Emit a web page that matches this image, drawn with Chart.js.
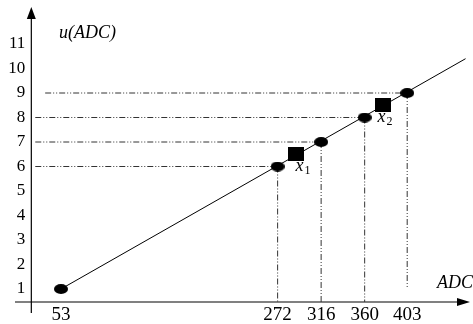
<!DOCTYPE html>
<html>
<head>
<meta charset="utf-8">
<script src="https://cdn.jsdelivr.net/npm/chart.js@4.4.1/dist/chart.umd.min.js"></script>
<style>
  html, body { margin: 0; padding: 0; background: #fff; }
  #wrap { width: 473px; height: 324px; }
</style>
</head>
<body>
<div id="wrap"><canvas id="chart" width="473" height="324"></canvas></div>
<script>
// calibration points on the line
const adcValues = [53, 272, 316, 360, 403];
const levels = [1, 6, 7, 8, 9];
// guide lines: where the horizontal one starts, where the vertical one stops
const guideStart = [null, 27, 27, 27, 37];
const guideStop = [null, 0.47, 0.47, 0.47, 1.04];
// the two measured samples
const sampleNames = ['1', '2'];
const sampleAdc = [291, 379];
const sampleLevel = [6.5, 8.5];
// far end of the fitted line
const lineEndAdc = 462;
const lineEndLevel = 10.4;
// tick labels
const yTicks = [1, 2, 3, 4, 5, 6, 7, 8, 9, 10, 11];
const xTicks = [53, 272, 316, 360, 403];

const X_MIN = 6.5, X_MAX = 466.5, Y_MIN = 0.47, Y_MAX = 12.51;
const Y_AXIS_AT = 23;
const SERIF = '"Liberation Serif", "DejaVu Serif", serif';

function makeMarker(w, h, shape) {
    const c = document.createElement('canvas');
    c.width = w; c.height = h;
    const ctx = c.getContext('2d');
    ctx.fillStyle = '#000';
    if (shape === 'ellipse') {
        ctx.beginPath();
        ctx.ellipse(w / 2, h / 2, w / 2, h / 2, 0, 0, Math.PI * 2);
        ctx.fill();
    } else {
        ctx.fillRect(0, 0, w, h);
    }
    return c;
}

const dotMarker = makeMarker(14, 10, 'ellipse');
const squareMarker = makeMarker(16, 14, 'rect');

const guideDash = [6, 2, 1, 2, 1, 2];
const guideSets = [];
for (let i = 1; i < adcValues.length; i++) {
    guideSets.push({
        data: [{ x: guideStart[i], y: levels[i] }, { x: adcValues[i], y: levels[i] }],
        showLine: true, borderColor: '#333', borderWidth: 1, borderDash: guideDash,
        pointRadius: 0, order: 5
    });
    guideSets.push({
        data: [{ x: adcValues[i], y: levels[i] }, { x: adcValues[i], y: guideStop[i] }],
        showLine: true, borderColor: '#333', borderWidth: 1, borderDash: guideDash,
        pointRadius: 0, order: 5
    });
}

const axesPlugin = {
    id: 'axes',
    beforeDatasetsDraw(chart) {
        const { ctx, chartArea, scales } = chart;
        const ax = scales.x.getPixelForValue(Y_AXIS_AT);
        const ay = scales.y.getPixelForValue(Y_MIN);
        ctx.save();
        // x axis
        ctx.strokeStyle = '#808080';
        ctx.lineWidth = 2;
        ctx.beginPath();
        ctx.moveTo(chartArea.left, ay);
        ctx.lineTo(chartArea.right - 10, ay);
        ctx.stroke();
        ctx.fillStyle = '#000';
        ctx.beginPath();
        ctx.moveTo(chartArea.right, ay);
        ctx.lineTo(chartArea.right - 13, ay - 4);
        ctx.lineTo(chartArea.right - 13, ay + 4);
        ctx.closePath();
        ctx.fill();
        // y axis
        ctx.strokeStyle = '#000';
        ctx.lineWidth = 1.2;
        ctx.beginPath();
        ctx.moveTo(ax, chartArea.bottom + 11);
        ctx.lineTo(ax, chartArea.top + 8);
        ctx.stroke();
        ctx.beginPath();
        ctx.moveTo(ax, chartArea.top);
        ctx.lineTo(ax - 4.5, chartArea.top + 12);
        ctx.lineTo(ax + 4.5, chartArea.top + 12);
        ctx.closePath();
        ctx.fill();
        ctx.restore();
    },
    afterDatasetsDraw(chart) {
        const { ctx, scales } = chart;
        const ax = scales.x.getPixelForValue(Y_AXIS_AT);
        const ay = scales.y.getPixelForValue(Y_MIN);
        ctx.save();
        ctx.fillStyle = '#000';
        // y tick labels
        ctx.font = '17px ' + SERIF;
        ctx.textAlign = 'right';
        ctx.textBaseline = 'middle';
        yTicks.forEach(t => ctx.fillText(String(t), ax - 6, scales.y.getPixelForValue(t)));
        // x tick labels
        ctx.font = '19px ' + SERIF;
        ctx.textAlign = 'center';
        ctx.textBaseline = 'alphabetic';
        xTicks.forEach(t => ctx.fillText(String(t), scales.x.getPixelForValue(t), ay + 18));
        // axis titles
        ctx.font = 'italic 18px ' + SERIF;
        ctx.textAlign = 'left';
        ctx.fillText('u(ADC)', 59, 38);
        ctx.fillText('ADC', 437, 288);
        // sample labels
        sampleNames.forEach((n, i) => {
            const px = scales.x.getPixelForValue(sampleAdc[i]) + (i === 0 ? -1 : -6);
            const py = scales.y.getPixelForValue(sampleLevel[i]) + 17;
            ctx.font = 'italic 18px ' + SERIF;
            ctx.fillText('x', px, py);
            const w = ctx.measureText('x').width;
            ctx.font = '12px ' + SERIF;
            ctx.fillText(n, px + w + 1, py + 3);
        });
        ctx.restore();
    }
};

new Chart(document.getElementById('chart'), {
    type: 'scatter',
    data: {
        datasets: [
            {
                data: sampleAdc.map((x, i) => ({ x, y: sampleLevel[i] })),
                pointStyle: squareMarker, pointRadius: 8, order: 0
            },
            {
                data: adcValues.map((x, i) => ({ x, y: levels[i] })),
                pointStyle: dotMarker, pointRadius: 7, order: 1
            },
            {
                data: [{ x: adcValues[0], y: levels[0] }, { x: lineEndAdc, y: lineEndLevel }],
                showLine: true, borderColor: '#000', borderWidth: 1, pointRadius: 0, order: 2
            },
            ...guideSets
        ]
    },
    options: {
        responsive: false,
        animation: false,
        layout: { autoPadding: false, padding: { left: 15, right: 3, top: 7, bottom: 22 } },
        elements: { line: { tension: 0 } },
        datasets: { scatter: { clip: false } },
        plugins: { legend: { display: false }, tooltip: { enabled: false } },
        scales: {
            x: { type: 'linear', min: X_MIN, max: X_MAX, display: false },
            y: { type: 'linear', min: Y_MIN, max: Y_MAX, display: false }
        }
    },
    plugins: [axesPlugin]
});
</script>
</body>
</html>
